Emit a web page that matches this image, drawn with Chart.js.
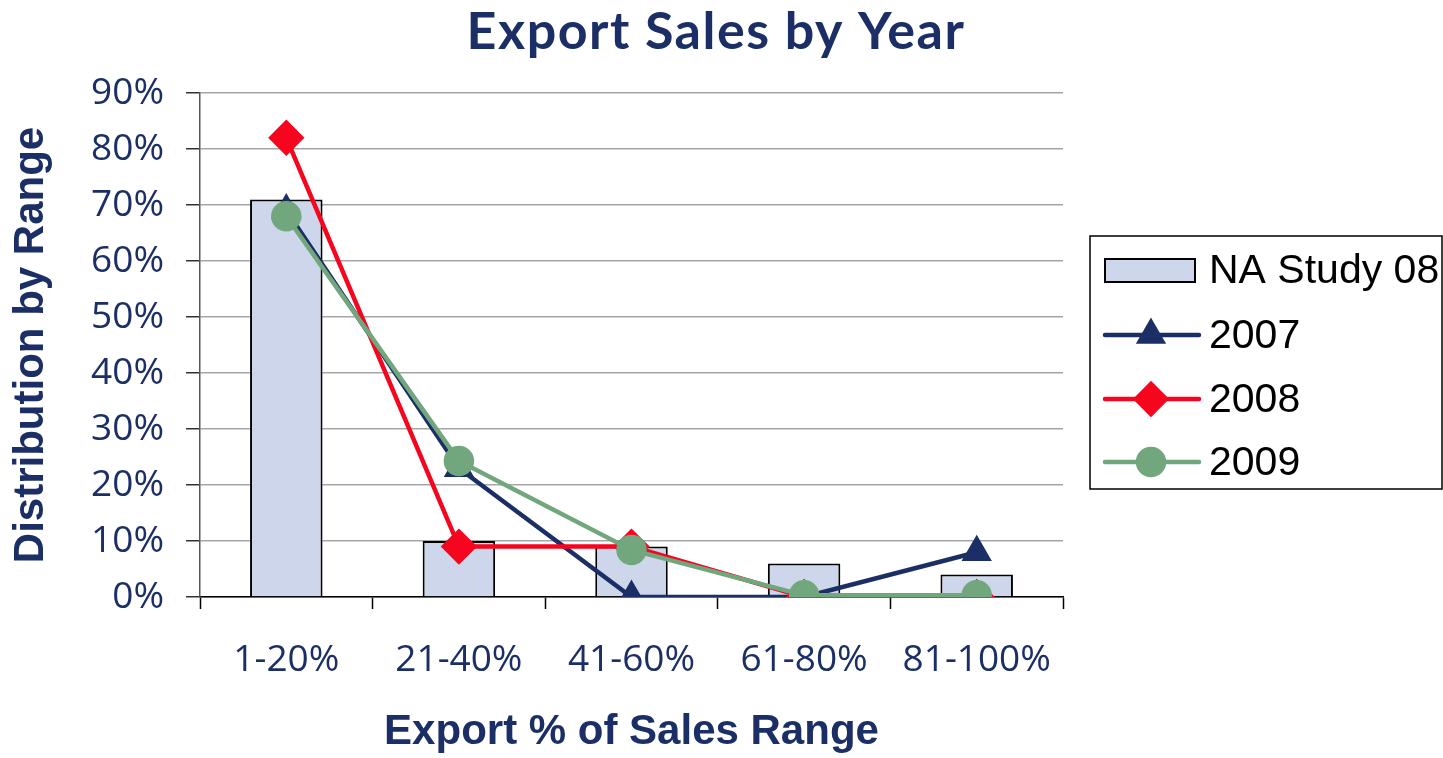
<!DOCTYPE html>
<html>
<head>
<meta charset="utf-8">
<script src="https://cdn.jsdelivr.net/npm/chart.js@4/dist/chart.umd.min.js"></script>
<style>
  html, body { margin: 0; padding: 0; background: #fff; }
  #wrap { width: 1443px; height: 758px; position: relative; }
</style>
</head>
<body>
<div id="wrap"><canvas id="salesChart"></canvas></div>
<script>
// categories and series (percent of companies per export range)
const ranges = ["1-20%", "21-40%", "41-60%", "61-80%", "81-100%"];
const naStudy08 = [71, 10, 9, 6, 4];
const y2007 = [69, 23, 0, 0, 8];
const y2008 = [82, 9, 9, 0, 0];
const y2009 = [68, 24.3, 8.4, 0.3, 0.3];

const navy = "#1b2f66";
const red = "#f7051e";
const green = "#72a77e";

// title and legend box drawn by hand so they sit like the original
const extras = {
    id: "extras",
    afterDraw(chart) {
        const ctx = chart.ctx;
        ctx.save();

        ctx.fillStyle = navy;
        ctx.font = "bold 52px Lato, 'Open Sans', sans-serif";
        ctx.letterSpacing = "1.5px";
        ctx.textAlign = "center";
        ctx.textBaseline = "alphabetic";
        ctx.fillText("Export Sales by Year", 716, 49);
        ctx.letterSpacing = "0px";

        ctx.textAlign = "left";
        ctx.strokeStyle = "#000";
        ctx.lineWidth = 1.5;
        ctx.strokeRect(1090, 236, 352, 253);

        const rows = [270, 335, 399, 462];
        ctx.font = "41px 'Liberation Sans', Arial, sans-serif";
        ctx.textBaseline = "middle";
        chart.data.datasets.forEach((ds, i) => {
            const y = rows[i];
            if (ds.type === "bar") {
                ctx.fillStyle = ds.backgroundColor;
                ctx.fillRect(1105, y - 11, 90, 23);
                ctx.strokeStyle = "#000";
                ctx.lineWidth = 2;
                ctx.strokeRect(1105, y - 11, 90, 23);
            } else {
                ctx.strokeStyle = ds.borderColor;
                ctx.lineWidth = 4.5;
                ctx.lineCap = "round";
                ctx.beginPath();
                ctx.moveTo(1105, y);
                ctx.lineTo(1199, y);
                ctx.stroke();
                ctx.fillStyle = ds.pointBackgroundColor;
                ctx.strokeStyle = ds.pointBorderColor;
                Chart.helpers.drawPoint(ctx, {
                    pointStyle: ds.pointStyle,
                    radius: ds.pointRadius,
                    rotation: 0,
                    borderWidth: 1
                }, 1151, y);
            }
            ctx.fillStyle = "#000";
            ctx.fillText(ds.label, 1209, y + 2);
        });
        ctx.restore();
    }
};

new Chart("salesChart", {
    data: {
        labels: ranges,
        datasets: [
            {
                type: "bar",
                label: "NA Study 08",
                data: naStudy08,
                backgroundColor: "#cdd6ea",
                borderColor: "#000",
                borderWidth: 2,
                borderSkipped: "bottom",
                categoryPercentage: 1,
                barPercentage: 0.42,
                order: 4
            },
            {
                type: "line",
                label: "2007",
                data: y2007,
                borderColor: navy,
                borderWidth: 4.5,
                pointStyle: "triangle",
                pointRadius: 13,
                pointBackgroundColor: navy,
                pointBorderColor: navy,
                order: 3
            },
            {
                type: "line",
                label: "2008",
                data: y2008,
                borderColor: red,
                borderWidth: 4.5,
                pointStyle: "rectRot",
                pointRadius: 15,
                pointBackgroundColor: red,
                pointBorderColor: red,
                order: 2
            },
            {
                type: "line",
                label: "2009",
                data: y2009,
                borderColor: green,
                borderWidth: 4.5,
                pointStyle: "circle",
                pointRadius: 13,
                pointBackgroundColor: green,
                pointBorderColor: green,
                order: 1
            }
        ]
    },
    options: {
        responsive: true,
        maintainAspectRatio: false,
        animation: false,
        layout: { padding: { top: 93, right: 380, left: 0, bottom: 0 } },
        plugins: {
            legend: { display: false },
            tooltip: { enabled: false },
            title: { display: false }
        },
        scales: {
            x: {
                offset: true,
                afterFit(scale) { scale.height = 161; },
                grid: {
                    offset: true,
                    drawOnChartArea: false,
                    drawTicks: true,
                    tickLength: 12,
                    tickColor: "#000",
                    tickWidth: 1.5
                },
                border: { color: "#000", width: 1.5 },
                ticks: {
                    color: navy,
                    padding: 29,
                    font: { family: "'Open Sans', sans-serif", size: 37 }
                },
                title: {
                    display: true,
                    text: "Export % of Sales Range",
                    color: navy,
                    font: { family: "'Liberation Sans', Arial, sans-serif", size: 42, weight: "bold" },
                    padding: { top: 10, bottom: 0 }
                }
            },
            y: {
                min: 0,
                max: 90,
                afterFit(scale) { scale.width = 200; },
                grid: {
                    color: "#a6a6a6",
                    lineWidth: 1.5,
                    tickLength: 14,
                    tickColor: "#333",
                    tickWidth: 1.5
                },
                border: { color: "#555", width: 1.5 },
                ticks: {
                    stepSize: 10,
                    color: navy,
                    padding: 22,
                    font: { family: "'Open Sans', sans-serif", size: 37 },
                    callback: v => v + "%"
                },
                title: {
                    display: true,
                    text: "Distribution by Range",
                    color: navy,
                    font: { family: "'Liberation Sans', Arial, sans-serif", size: 42, weight: "bold" },
                    padding: { top: 6, bottom: 0 }
                }
            }
        }
    },
    plugins: [extras]
});
</script>
</body>
</html>
